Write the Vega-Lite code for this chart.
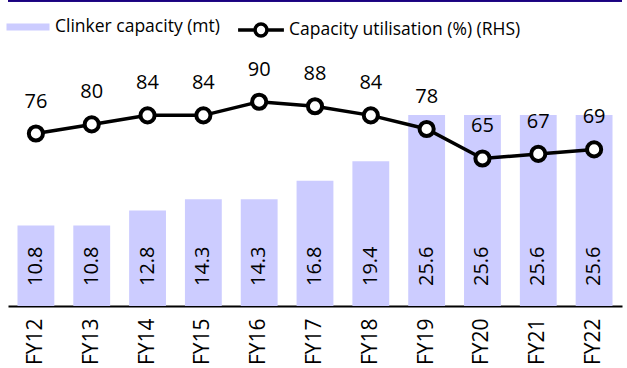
{
  "$schema": "https://vega.github.io/schema/vega-lite/v6.json",
  "width": 614,
  "height": 306,
  "padding": {"left": 8, "top": 0, "right": 5, "bottom": 62},
  "autosize": {"type": "none"},
  "background": "white",
  "config": {
    "view": {"stroke": null},
    "font": "Open Sans",
    "text": {"font": "Open Sans"}
  },
  "data": {
    "values": [
      {"year": "FY12", "cap": 10.8, "util": 76},
      {"year": "FY13", "cap": 10.8, "util": 80},
      {"year": "FY14", "cap": 12.8, "util": 84},
      {"year": "FY15", "cap": 14.3, "util": 84},
      {"year": "FY16", "cap": 14.3, "util": 90},
      {"year": "FY17", "cap": 16.8, "util": 88},
      {"year": "FY18", "cap": 19.4, "util": 84},
      {"year": "FY19", "cap": 25.6, "util": 78},
      {"year": "FY20", "cap": 25.6, "util": 65},
      {"year": "FY21", "cap": 25.6, "util": 67},
      {"year": "FY22", "cap": 25.6, "util": 69}
    ]
  },
  "layer": [
    {
      "layer": [
        {
          "mark": {"type": "bar", "color": "#ccccff"},
          "encoding": {
            "x": {
              "field": "year",
              "type": "nominal",
              "sort": null,
              "scale": {"paddingInner": 0.34, "paddingOuter": 0.17},
              "axis": {
                "title": null,
                "labelAngle": -90,
                "labelAlign": "right",
                "labelBaseline": "middle",
                "labelPadding": 12,
                "labelFontSize": 21,
                "labelColor": "black",
                "labelFont": "Open Sans",
                "ticks": false,
                "domainColor": "black",
                "domainWidth": 2
              }
            },
            "y": {"field": "cap", "type": "quantitative", "scale": {"domain": [0, 41.03]}, "axis": null},
            "fill": {
              "datum": "Clinker capacity (mt)",
              "type": "nominal",
              "scale": {"range": ["#ccccff"]},
              "legend": {
                "orient": "none",
                "legendX": -2,
                "legendY": 5,
                "title": null,
                "symbolType": "M-1,-0.163H1V0.163H-1Z",
                "symbolSize": 1850,
                "symbolStrokeWidth": 0,
                "labelFontSize": 17.5,
                "labelFont": "Open Sans",
                "labelColor": "black",
                "labelOffset": 5,
                "labelLimit": 0
              }
            }
          }
        },
        {
          "mark": {"type": "text", "angle": -90, "align": "left", "baseline": "middle", "dx": 20, "fontSize": 20, "color": "black", "font": "Open Sans"},
          "encoding": {
            "x": {"field": "year", "type": "nominal", "sort": null},
            "y": {"datum": 0, "type": "quantitative", "scale": {"domain": [0, 41.03]}, "axis": null},
            "text": {"field": "cap", "type": "quantitative", "format": ".1f"}
          }
        },
        {
          "mark": {"type": "rule", "color": "#1a0080", "strokeWidth": 2.5},
          "encoding": {
            "y": {"datum": 41.03, "type": "quantitative", "scale": {"domain": [0, 41.03]}, "axis": null}
          }
        }
      ]
    },
    {
      "layer": [
        {
          "mark": {"type": "line", "color": "black", "strokeWidth": 3.5},
          "encoding": {
            "x": {"field": "year", "type": "nominal", "sort": null},
            "y": {"field": "util", "type": "quantitative", "scale": {"domain": [0, 134.83]}, "axis": null},
            "stroke": {
              "datum": "Capacity utilisation (%) (RHS)",
              "type": "nominal",
              "scale": {"range": ["black"]},
              "legend": {
                "orient": "none",
                "legendX": 228,
                "legendY": 5,
                "title": null,
                "symbolType": "M-1,0H-0.28M0.28,0H1M-0.26,0A0.26,0.26 0 1,0 0.26,0A0.26,0.26 0 1,0 -0.26,0Z",
                "symbolSize": 2100,
                "symbolStrokeWidth": 3.5,
                "symbolFillColor": "white",
                "labelFontSize": 17.5,
                "labelFont": "Open Sans",
                "labelColor": "black",
                "labelOffset": 3,
                "labelLimit": 0
              }
            }
          }
        },
        {
          "mark": {"type": "point", "filled": true, "fill": "white", "stroke": "black", "strokeWidth": 4, "size": 200, "opacity": 1},
          "encoding": {
            "x": {"field": "year", "type": "nominal", "sort": null},
            "y": {"field": "util", "type": "quantitative", "scale": {"domain": [0, 134.83]}, "axis": null}
          }
        },
        {
          "mark": {"type": "text", "dy": -32, "fontSize": 20, "color": "black", "font": "Open Sans"},
          "encoding": {
            "x": {"field": "year", "type": "nominal", "sort": null},
            "y": {"field": "util", "type": "quantitative", "scale": {"domain": [0, 134.83]}, "axis": null},
            "text": {"field": "util", "type": "quantitative"}
          }
        }
      ]
    }
  ],
  "resolve": {"scale": {"y": "independent", "fill": "independent", "stroke": "independent"}}
}
